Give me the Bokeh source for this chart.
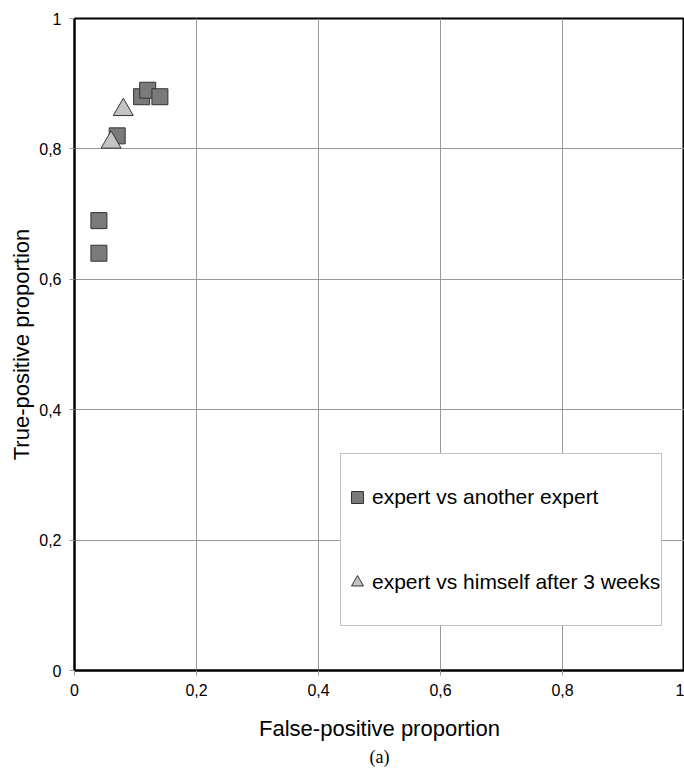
from bokeh.plotting import figure
from bokeh.models import FixedTicker, Legend, LegendItem, Range1d, Title
from bokeh.embed import file_html
from bokeh.resources import INLINE

# data
expert_other_x = [0.04, 0.04, 0.07, 0.11, 0.12, 0.14]
expert_other_y = [0.69, 0.64, 0.82, 0.88, 0.89, 0.88]
expert_self_x = [0.06, 0.08]
expert_self_y = [0.81, 0.86]
ticks = [0, 0.2, 0.4, 0.6, 0.8, 1.0]
tick_labels = ["0", "0,2", "0,4", "0,6", "0,8", "1"]

p = figure(width=684, height=770, output_backend="svg", toolbar_location=None,
           x_range=Range1d(0, 1), y_range=Range1d(0, 1),
           min_border_left=74, min_border_right=0, min_border_top=18, min_border_bottom=100)

p.background_fill_color = "white"
p.border_fill_color = "white"
p.outline_line_color = "black"
p.outline_line_width = 2

for ax in (p.xaxis[0], p.yaxis[0]):
    ax.ticker = FixedTicker(ticks=ticks)
    ax.major_label_overrides = {t: l for t, l in zip(ticks, tick_labels)}
    ax.major_label_overrides.update({1: "1"})
    ax.axis_line_color = "black"
    ax.axis_line_width = 2
    ax.major_tick_line_color = "#999999"
    ax.major_tick_in = 0
    ax.major_tick_out = 5
    ax.minor_tick_line_color = None
    ax.major_label_text_font = "Liberation Sans"
    ax.major_label_text_font_size = "16px"
    ax.major_label_text_color = "black"
    ax.axis_label_text_font = "Liberation Sans"
    ax.axis_label_text_font_size = "22px"
    ax.axis_label_text_font_style = "normal"
    ax.axis_label_text_color = "black"

p.xaxis.axis_label = "False-positive proportion"
p.yaxis.axis_label = "True-positive proportion"
p.xaxis.major_label_standoff = 8
p.yaxis.major_label_standoff = 8
p.xaxis.axis_label_standoff = 17
p.yaxis.axis_label_standoff = 2

p.xgrid.ticker = FixedTicker(ticks=ticks)
p.ygrid.ticker = FixedTicker(ticks=ticks)
p.grid.grid_line_color = "#999999"
p.grid.grid_line_width = 1

r1 = p.scatter(expert_other_x, expert_other_y, marker="square", size=16,
               fill_color="#7a7a7a", line_color="#333333", line_width=1)
r2 = p.scatter(expert_self_x, expert_self_y, marker="triangle", size=20,
               fill_color="#c4c4c4", line_color="#333333", line_width=1)

legend = Legend(items=[LegendItem(label="expert vs another expert", renderers=[r1]),
                       LegendItem(label="expert vs himself after 3 weeks", renderers=[r2])],
                location=(266, 44), padding=1, spacing=1, label_height=84,
                glyph_width=30, glyph_height=30, label_standoff=0,
                label_text_font="Liberation Sans", label_text_font_size="21px",
                label_text_color="black",
                border_line_color="#888888", border_line_width=1,
                background_fill_color="white", background_fill_alpha=1)
p.add_layout(legend)

cap = Title(text="(a)", align="center", text_font="Liberation Serif",
            text_font_size="18px", text_font_style="normal", text_color="black",
            standoff=3)
p.add_layout(cap, "below")

open("out.html", "w").write(file_html(p, INLINE))
